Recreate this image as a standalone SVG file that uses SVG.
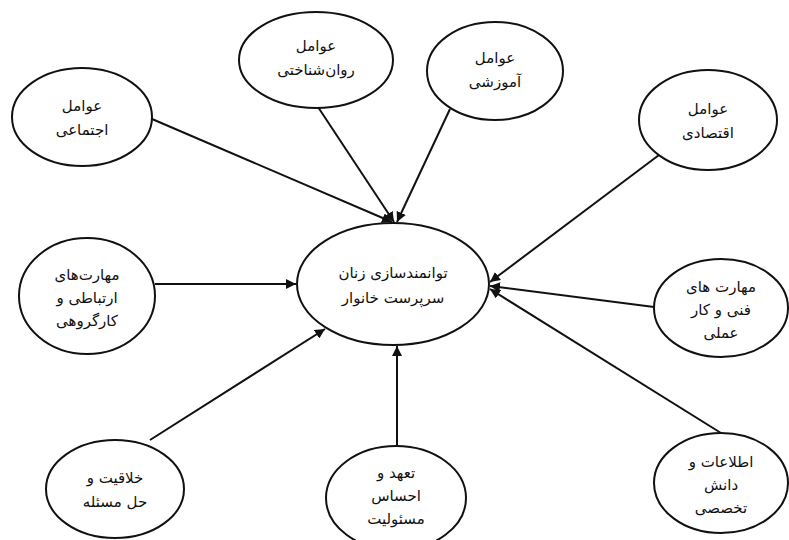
<svg xmlns="http://www.w3.org/2000/svg" width="789" height="540" viewBox="0 0 789 540">
<style>
.n ellipse{fill:#fff;stroke:#111;stroke-width:2}
.n text{font-family:"DejaVu Sans","Noto Sans",sans-serif;font-size:15px;fill:#111;text-anchor:middle;direction:rtl}
.c line{stroke:#111;stroke-width:2;marker-end:url(#ah)}
</style>
<defs>
<marker id="ah" viewBox="0 0 10 10" refX="10" refY="5" markerWidth="5" markerHeight="5" orient="auto" markerUnits="strokeWidth">
<path d="M0,0 L10,5 L0,10 z" fill="#111"/>
</marker>
</defs>
<rect width="789" height="540" fill="#fff"/>
<g id="connectors" class="c">
<line x1="152" y1="119" x2="392" y2="222"/>
<line x1="318" y1="107" x2="394" y2="222"/>
<line x1="450" y1="109" x2="397" y2="222"/>
<line x1="659" y1="155" x2="490" y2="282"/>
<line x1="155" y1="284" x2="296" y2="284"/>
<line x1="654" y1="307" x2="490" y2="286"/>
<line x1="721" y1="433" x2="490" y2="289"/>
<line x1="150" y1="440" x2="325" y2="329"/>
<line x1="397" y1="447" x2="397" y2="346"/>
</g>
<g id="n-social" class="n"><ellipse cx="82" cy="117" rx="70" ry="49"/><text x="82" y="111">عوامل</text><text x="82" y="135">اجتماعی</text></g>
<g id="n-psych" class="n"><ellipse cx="316" cy="60" rx="77" ry="48"/><text x="316" y="51">عوامل</text><text x="316" y="75">روان‌شناختی</text></g>
<g id="n-edu" class="n"><ellipse cx="495" cy="71" rx="68" ry="49"/><text x="495" y="63">عوامل</text><text x="495" y="87">آموزشی</text></g>
<g id="n-econ" class="n"><ellipse cx="708" cy="120" rx="69" ry="50"/><text x="708" y="114">عوامل</text><text x="708" y="138">اقتصادی</text></g>
<g id="n-comm" class="n"><ellipse cx="87" cy="296" rx="68" ry="58"/><text x="87" y="280">مهارت‌های</text><text x="87" y="303">ارتباطی و</text><text x="87" y="326">کارگروهی</text></g>
<g id="n-center" class="n"><ellipse cx="393" cy="284" rx="96" ry="61"/><text x="393" y="278">توانمندسازی زنان</text><text x="393" y="303">سرپرست خانوار</text></g>
<g id="n-tech" class="n"><ellipse cx="721" cy="308" rx="67" ry="49"/><text x="721" y="292">مهارت های</text><text x="721" y="315">فنی و کار</text><text x="721" y="338">عملی</text></g>
<g id="n-creat" class="n"><ellipse cx="115" cy="489" rx="69" ry="49"/><text x="115" y="483">خلاقیت و</text><text x="115" y="507">حل مسئله</text></g>
<g id="n-commit" class="n"><ellipse cx="396" cy="498" rx="70" ry="52"/><text x="396" y="478">تعهد و</text><text x="396" y="501">احساس</text><text x="396" y="524">مسئولیت</text></g>
<g id="n-info" class="n"><ellipse cx="721" cy="483" rx="67" ry="50"/><text x="721" y="467">اطلاعات و</text><text x="721" y="490">دانش</text><text x="721" y="513">تخصصی</text></g>
</svg>
